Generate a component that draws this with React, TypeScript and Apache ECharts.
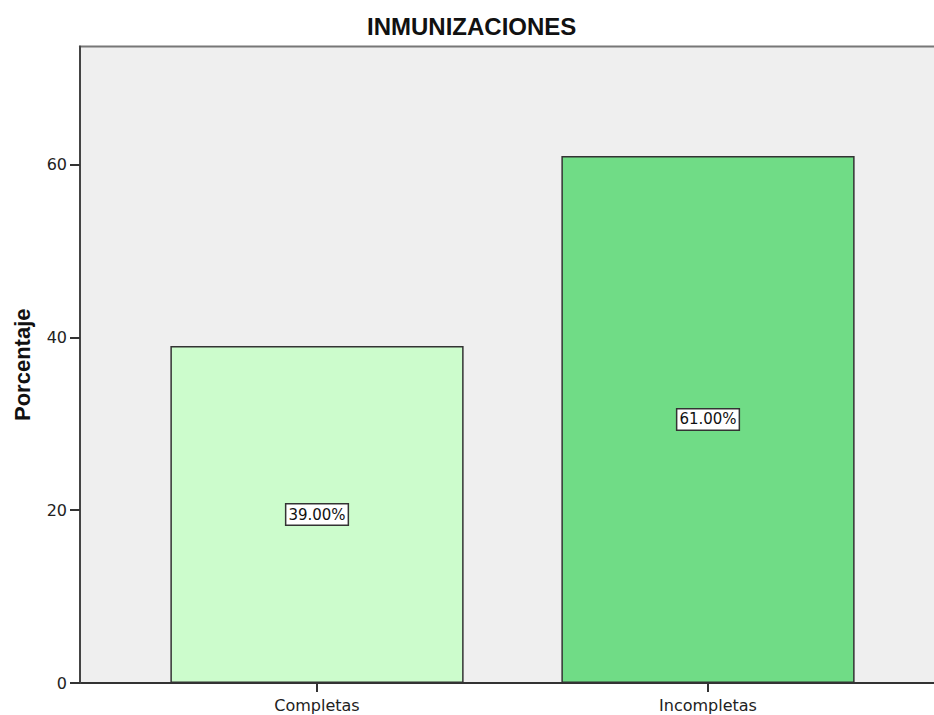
import React, { useEffect, useRef } from "react";
import * as echarts from "echarts";

const categories = ["Completas", "Incompletas"];
const values = [39, 61];
const barColors = ["#ccfccc", "#70dc86"];
const yTicks = [0, 20, 40, 60];
const titleText = "INMUNIZACIONES";
const yName = "Porcentaje";

export default function App() {
  const ref = useRef<HTMLDivElement>(null);
  useEffect(() => {
    if (!ref.current) return;
    const chart = echarts.init(ref.current, undefined, { renderer: "svg" });
    const tickFont = { fontFamily: "DejaVu Sans", fontSize: 16, color: "#222" };
    chart.setOption({
      animation: false,
      backgroundColor: "#ffffff",
      title: {
        text: titleText,
        left: 367,
        top: 14,
        padding: 0,
        textStyle: { fontFamily: "Liberation Sans", fontWeight: "bold", fontSize: 24, color: "#111" },
      },
      grid: [
        {
          left: 80, top: 46.5, right: -20, bottom: 32, outerBoundsMode: "none", containLabel: false,
          show: true, backgroundColor: "#efefef", borderColor: "#777777", borderWidth: 2,
        },
        { left: 121.5, width: 782, top: -8.2, bottom: 32, outerBoundsMode: "none", containLabel: false },
      ],
      xAxis: [
        {
          gridIndex: 0, type: "category", data: categories,
          axisLine: { show: true, lineStyle: { color: "#333", width: 2 } },
          axisTick: { show: false }, axisLabel: { show: false }, splitLine: { show: false },
        },
        {
          gridIndex: 1, type: "category", data: categories,
          axisLine: { show: false },
          axisTick: { show: true, alignWithLabel: true, length: 9, lineStyle: { color: "#333", width: 2 } },
          axisLabel: { ...tickFont, margin: 14 },
          splitLine: { show: false },
        },
      ],
      yAxis: [
        {
          gridIndex: 0, type: "value", min: 0, max: 73.7, z: 5,
          axisLine: { show: true, lineStyle: { color: "#444", width: 2 } },
          axisTick: { show: false }, axisLabel: { show: false }, splitLine: { show: false },
          name: yName, nameLocation: "middle", nameGap: 47,
          nameTextStyle: { fontFamily: "Liberation Sans", fontWeight: "bold", fontSize: 22, color: "#111" },
        },
        {
          gridIndex: 1, type: "value", min: 0, max: 80, interval: 20, offset: 41.5, z: 6,
          axisLine: { show: true, lineStyle: { color: "rgba(0,0,0,0)", width: 2 } },
          axisTick: { show: true, inside: false, length: 10, lineStyle: { color: "#333", width: 2, opacity: 1 } },
          axisLabel: {
            ...tickFont, margin: 13,
            formatter: (v: number) => (yTicks.includes(v) ? String(v) : ""),
          },
          splitLine: { show: false },
        },
      ],
      series: [
        {
          type: "bar", xAxisIndex: 1, yAxisIndex: 1, barWidth: "75%",
          data: values.map((v, i) => ({
            value: v,
            itemStyle: { color: barColors[i], borderColor: "#333", borderWidth: 1.5 },
          })),
          label: {
            show: true, position: "inside",
            formatter: (p: any) => p.value.toFixed(2) + "%",
            fontFamily: "DejaVu Sans", fontSize: 15, color: "#111",
            backgroundColor: "#ffffff", borderColor: "#333", borderWidth: 1.5,
            padding: [3, 2, 2, 2],
          },
        },
      ],
    });
    return () => chart.dispose();
  }, []);
  return <div ref={ref} style={{ position: "absolute", left: 0, top: 0, width: 934, height: 715 }} />;
}
